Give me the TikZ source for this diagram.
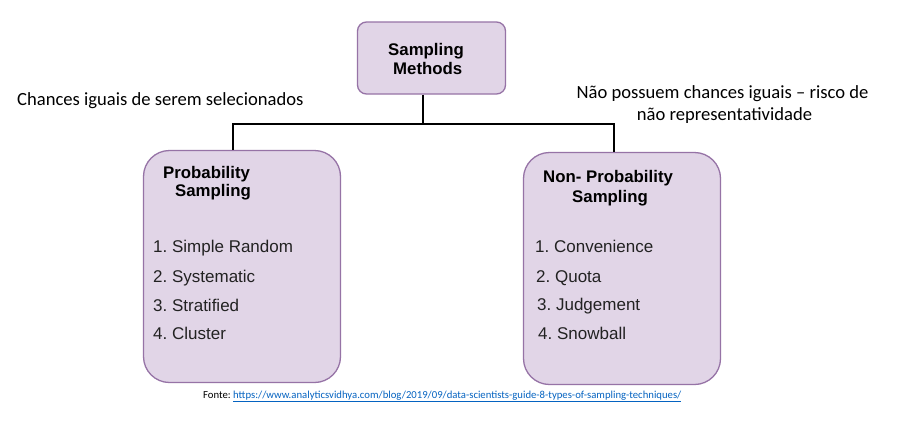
\documentclass[tikz,border=0pt]{standalone}
\usepackage{fontspec}
\setmainfont{Liberation Sans}
\newfontfamily\calib{Carlito}
\definecolor{boxfill}{HTML}{E1D5E7}
\definecolor{boxline}{HTML}{9673A6}
\definecolor{linkblue}{HTML}{0563C1}
\definecolor{itemgray}{HTML}{222222}
\frenchspacing
\begin{document}
\begin{tikzpicture}[x=1pt,y=-1pt,
  box/.style={draw=boxline,fill=boxfill,line width=1.3pt,inner sep=0pt},
  conn/.style={draw=black,line width=2pt},
  ttl/.style={anchor=base west,inner sep=0pt,font=\fontsize{16.8}{20}\selectfont\bfseries},
  itm/.style={anchor=base west,inner sep=0pt,text=itemgray,font=\fontsize{17}{20}\selectfont},
  note/.style={inner sep=0pt,font=\calib\fontsize{18.6}{22}\selectfont}]
\useasboundingbox (0,0) rectangle (897,421);
\fill[white] (0,0) rectangle (897,421);
% boxes
\node[box,rounded corners=9pt,minimum width=148pt,minimum height=72pt] (top) at (431.5,58) {};
\node[box,rounded corners=26pt,minimum width=197pt,minimum height=232pt] (left) at (242,266.5) {};
\node[box,rounded corners=26pt,minimum width=197pt,minimum height=232pt] (right) at (622,268.5) {};
% connectors
\coordinate (tj) at (423,124);
\coordinate (lj) at (233,124);
\coordinate (rj) at (614,124);
\draw[conn] (top.south -| tj) -- (tj);
\draw[conn] (left.north -| lj) -- (lj) -- (rj) -- (right.north -| rj);
% top title
\node[ttl] (t1) at (388,55) {Sampling};
\node[ttl] (t2) at (393,74) {Methods};
% left title and items
\node[ttl] (l1) at (163,178) {Probability};
\node[ttl] (l2) at (175,196) {Sampling};
\node[itm] (li1) at (153,252) {1. Simple Random};
\node[itm] (li2) at (153,282) {2. Systematic};
\node[itm] (li3) at (153,311) {3. Stratified};
\node[itm] (li4) at (153,339) {4. Cluster};
% right title and items
\node[ttl] (r1) at (543,182) {Non- Probability};
\node[ttl] (r2) at (572,202) {Sampling};
\node[itm] (ri1) at (535,252) {1. Convenience};
\node[itm] (ri2) at (536,282) {2. Quota};
\node[itm] (ri3) at (537,310) {3. Judgement};
\node[itm] (ri4) at (538,339) {4. Snowball};
% annotations
\node[note,anchor=base west] (n1) at (17,105) {Chances iguais de serem selecionados};
\node[note,anchor=base] (n2) at (722.5,98) {Não possuem chances iguais – risco de};
\node[note,anchor=base] (n3) at (724.5,120.5) {não representatividade};
% source
\node[anchor=base west,inner sep=0pt,font=\calib\fontsize{10.7}{12}\selectfont] (src) at (203,398) {Fonte: \textcolor{linkblue}{\underline{https://www.analyticsvidhya.com/blog/2019/09/data-scientists-guide-8-types-of-sampling-techniques/}}};
\end{tikzpicture}
\end{document}
